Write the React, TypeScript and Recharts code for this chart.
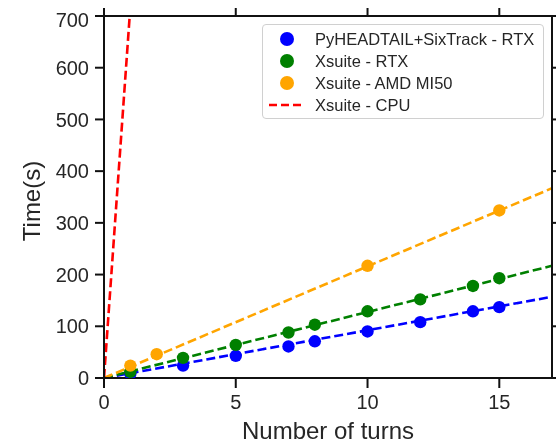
import React from 'react';
import { ComposedChart, Scatter, Line, XAxis, YAxis, Legend } from 'recharts';

// ---- data ----
const turns = [1, 3, 5, 7, 8, 10, 12, 14, 15];
const pyheadtailRtx = [8, 24, 43, 61, 71, 90, 108, 129, 137];
const xsuiteRtx = [12, 39, 64, 88, 103, 129, 152, 178, 193];
const amdTurns = [1, 2, 10, 15];
const xsuiteAmd = [24, 46, 217, 324];

const fitTurns = [0, 17];
const fitPyheadtail = [0, 157];
const fitXsuiteRtx = [0, 217];
const fitXsuiteAmd = [0, 367];
const cpuTurns = [0, 1];
const xsuiteCpu = [0, 718];

const xTicks = [0, 5, 10, 15];
const yTicks = [0, 100, 200, 300, 400, 500, 600, 700];

const seriesNames = [
  'PyHEADTAIL+SixTrack - RTX',
  'Xsuite - RTX',
  'Xsuite - AMD MI50',
  'Xsuite - CPU',
];
const colors = ['#0000ff', '#008000', '#ffa500', '#ff0000'];

const zip = (xs: number[], ys: number[]) => xs.map((x, i) => ({ x, y: ys[i] }));

const FONT = '"Liberation Sans", Arial, Helvetica, sans-serif';
const TEXT = '#262626';
const AXIS = '#111111';

const dot = (color: string) => (p: any) => (
  <circle cx={p.cx} cy={p.cy} r={6.2} fill={color} stroke="none" />
);

const Blank = () => <g />;

const LegendBox = () => (
  <div
    style={{
      width: 282,
      height: 95,
      boxSizing: 'border-box',
      border: '1.5px solid #d0d0d0',
      borderRadius: 4,
      background: '#ffffff',
      position: 'relative',
      fontFamily: FONT,
      fontSize: 16.5,
      color: TEXT,
    }}
  >
    {seriesNames.map((name, i) => {
      const cy = 14 + i * 22;
      return (
        <div key={name} style={{ position: 'absolute', left: 0, top: cy - 10, height: 20, width: '100%' }}>
          {i < 3 ? (
            <div
              style={{
                position: 'absolute',
                left: 17,
                top: 3,
                width: 14,
                height: 14,
                borderRadius: 7,
                background: colors[i],
              }}
            />
          ) : (
            <svg style={{ position: 'absolute', left: 5, top: 0 }} width={38} height={20}>
              <line x1={1} y1={10} x2={36} y2={10} stroke={colors[i]} strokeWidth={2.4} strokeDasharray="8 4" />
            </svg>
          )}
          <span style={{ position: 'absolute', left: 52, top: 0, lineHeight: '20px', whiteSpace: 'nowrap' }}>
            {name}
          </span>
        </div>
      );
    })}
  </div>
);

const tickStyle = { fill: TEXT, fontSize: 20, fontFamily: FONT };

export default function App() {
  return (
    <div style={{ position: 'fixed', left: 8, top: 8, width: 548, height: 436, fontFamily: FONT }}>
      <ComposedChart width={548} height={436} margin={{ top: 0, right: 0, bottom: 0, left: 0 }}>
        <XAxis
          dataKey="x"
          type="number"
          domain={[0, 17]}
          ticks={xTicks}
          allowDataOverflow
          height={66}
          tickSize={10}
          tickMargin={7}
          tick={tickStyle}
          axisLine={{ stroke: AXIS, strokeWidth: 2 }}
          tickLine={{ stroke: AXIS, strokeWidth: 2 }}
          label={{
            content: () => (
              <text x={320} y={431} textAnchor="middle" fill={TEXT} fontSize={24} fontFamily={FONT}>
                Number of turns
              </text>
            ),
          }}
        />
        <XAxis
          xAxisId="top"
          orientation="top"
          dataKey="x"
          type="number"
          domain={[0, 17]}
          ticks={xTicks}
          allowDataOverflow
          height={8}
          tickSize={10}
          tick={Blank}
          axisLine={{ stroke: AXIS, strokeWidth: 2 }}
          tickLine={{ stroke: AXIS, strokeWidth: 2 }}
        />
        <YAxis
          type="number"
          domain={[0, 700]}
          ticks={yTicks}
          allowDataOverflow
          width={96}
          tickSize={9}
          tickMargin={6}
          tick={tickStyle}
          axisLine={{ stroke: AXIS, strokeWidth: 2 }}
          tickLine={{ stroke: AXIS, strokeWidth: 2 }}
          label={{
            content: () => (
              <text
                x={32}
                y={193}
                transform="rotate(-90 32 193)"
                textAnchor="middle"
                fill={TEXT}
                fontSize={24}
                fontFamily={FONT}
              >
                Time(s)
              </text>
            ),
          }}
        />
        <YAxis
          yAxisId="right"
          orientation="right"
          type="number"
          domain={[0, 700]}
          ticks={yTicks}
          allowDataOverflow
          width={4}
          tickSize={9}
          tick={Blank}
          axisLine={{ stroke: AXIS, strokeWidth: 2 }}
          tickLine={{ stroke: AXIS, strokeWidth: 2 }}
        />
        <Scatter
          name={seriesNames[0]}
          data={zip(turns, pyheadtailRtx)}
          dataKey="y"
          fill={colors[0]}
          shape={dot(colors[0])}
          isAnimationActive={false}
        />
        <Scatter
          name={seriesNames[1]}
          data={zip(turns, xsuiteRtx)}
          dataKey="y"
          fill={colors[1]}
          shape={dot(colors[1])}
          isAnimationActive={false}
        />
        <Scatter
          name={seriesNames[2]}
          data={zip(amdTurns, xsuiteAmd)}
          dataKey="y"
          fill={colors[2]}
          shape={dot(colors[2])}
          isAnimationActive={false}
        />
        <Line
          data={zip(fitTurns, fitPyheadtail)}
          dataKey="y"
          stroke={colors[0]}
          strokeWidth={2.6}
          strokeDasharray="9 4"
          dot={false}
          activeDot={false}
          legendType="none"
          isAnimationActive={false}
        />
        <Line
          data={zip(fitTurns, fitXsuiteRtx)}
          dataKey="y"
          stroke={colors[1]}
          strokeWidth={2.6}
          strokeDasharray="9 4"
          dot={false}
          activeDot={false}
          legendType="none"
          isAnimationActive={false}
        />
        <Line
          data={zip(fitTurns, fitXsuiteAmd)}
          dataKey="y"
          stroke={colors[2]}
          strokeWidth={2.6}
          strokeDasharray="9 4"
          dot={false}
          activeDot={false}
          legendType="none"
          isAnimationActive={false}
        />
        <Line
          name={seriesNames[3]}
          data={zip(cpuTurns, xsuiteCpu)}
          dataKey="y"
          stroke={colors[3]}
          strokeWidth={2.6}
          strokeDasharray="9 4"
          dot={false}
          activeDot={false}
          isAnimationActive={false}
        />
        {/* invisible twin of a fit so the mirrored top / right axes are drawn */}
        <Line
          xAxisId="top"
          yAxisId="right"
          data={zip(fitTurns, fitPyheadtail)}
          dataKey="y"
          stroke="none"
          strokeWidth={0}
          dot={false}
          activeDot={false}
          legendType="none"
          isAnimationActive={false}
        />
        <Legend
          layout="horizontal"
          verticalAlign="middle"
          content={() => <LegendBox />}
          wrapperStyle={{ position: 'absolute', left: 254, top: 16, width: 282, height: 95 }}
        />
      </ComposedChart>
    </div>
  );
}
